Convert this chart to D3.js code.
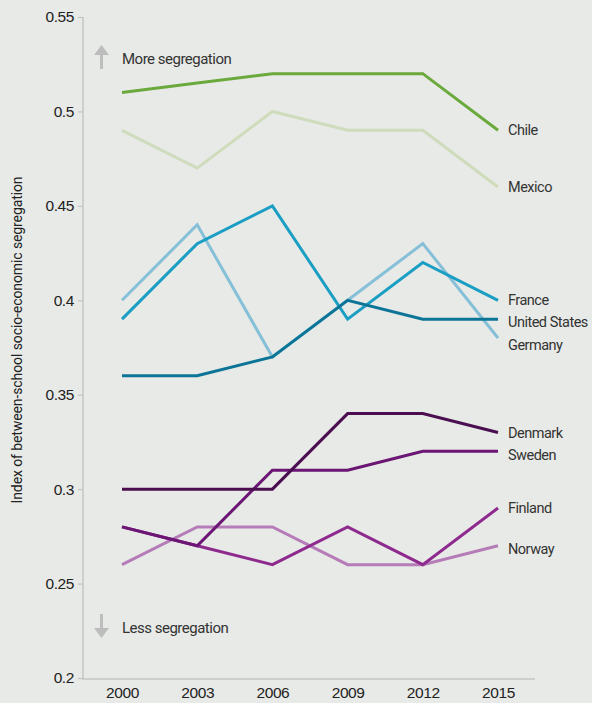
<!DOCTYPE html>
<html><head><meta charset="utf-8">
<script src="https://cdn.jsdelivr.net/npm/d3@7"></script>
<style>
body{margin:0;background:#e8eae7;}
svg{display:block;font-family:"Roboto","Noto Sans",sans-serif;}
</style></head><body>
<svg id="c" width="592" height="703"></svg>
<script>
const years = [2000, 2003, 2006, 2009, 2012, 2015];
const yTicks = [0.2, 0.25, 0.3, 0.35, 0.4, 0.45, 0.5, 0.55];
const countries = ["Chile","Mexico","France","United States","Germany","Denmark","Sweden","Finland","Norway"];
const chile   = [0.51, 0.515, 0.52, 0.52, 0.52, 0.49];
const mexico  = [0.49, 0.47, 0.50, 0.49, 0.49, 0.46];
const france  = [0.39, 0.43, 0.45, 0.39, 0.42, 0.40];
const usa     = [0.36, 0.36, 0.37, 0.40, 0.39, 0.39];
const germany = [0.40, 0.44, 0.37, 0.40, 0.43, 0.38];
const denmark = [0.30, 0.30, 0.30, 0.34, 0.34, 0.33];
const sweden  = [0.28, 0.27, 0.31, 0.31, 0.32, 0.32];
const finland = [0.28, 0.27, 0.26, 0.28, 0.26, 0.29];
const norway  = [0.26, 0.28, 0.28, 0.26, 0.26, 0.27];
const colors = ["#6aa93b","#cfdcbc","#1a9ec4","#0c7597","#86bfd8","#4b0e50","#6b1574","#8e2a8e","#b57cb8"];
const seriesValues = [chile, mexico, france, usa, germany, denmark, sweden, finland, norway];
const labelValues = [0.49, 0.46, 0.40, 0.3885, 0.3765, 0.33, 0.318, 0.29, 0.2685];

const svg = d3.select("#c");
const x = d3.scalePoint().domain(years).range([122, 498]);
const y = d3.scaleLinear().domain([0.2, 0.55]).range([678, 17]);

// axes
svg.append("line").attr("x1",83).attr("x2",83).attr("y1",17).attr("y2",679)
  .attr("stroke","#c4c4c4").attr("stroke-width",1.5);
svg.append("line").attr("x1",82).attr("x2",535).attr("y1",679).attr("y2",679)
  .attr("stroke","#c4c4c4").attr("stroke-width",1.5);

const yAxis = d3.axisLeft(y).tickValues(yTicks).tickSize(5).tickFormat(d => String(+d.toFixed(2)));
const gy = svg.append("g").attr("transform","translate(83,0)").call(yAxis);
gy.select(".domain").remove();
gy.selectAll(".tick line").attr("stroke","#c4c4c4").attr("stroke-width",1.2);
gy.selectAll(".tick text").attr("font-size",15.5).attr("fill","#222").attr("x",-9)
  .attr("font-family","inherit").attr("letter-spacing",-0.4);

const xAxis = d3.axisBottom(x).tickSize(0).tickFormat(d3.format("d"));
const gx = svg.append("g").attr("transform","translate(0,679)").call(xAxis);
gx.select(".domain").remove();
gx.selectAll(".tick text").attr("font-size",15.5).attr("fill","#222").attr("dy","1.05em")
  .attr("font-family","inherit").attr("letter-spacing",-0.4);

// y title
svg.append("text").attr("transform","translate(22,340) rotate(-90)")
  .attr("text-anchor","middle").attr("font-size",14).attr("fill","#222").attr("letter-spacing",-0.1)
  .text("Index of between-school socio-economic segregation");

// annotations
function arrow(up, yy){
  const g = svg.append("g").attr("fill","#bdbdbd");
  if(up){
    g.append("rect").attr("x",100).attr("y",yy+8).attr("width",3).attr("height",16);
    g.append("path").attr("d",`M94,${yy+10} L101.5,${yy} L109,${yy+10} Z`);
  } else {
    g.append("rect").attr("x",100).attr("y",yy).attr("width",3).attr("height",16);
    g.append("path").attr("d",`M94,${yy+14} L101.5,${yy+24} L109,${yy+14} Z`);
  }
}
arrow(true, 45);
arrow(false, 614);
svg.append("text").attr("x",122).attr("y",64).attr("font-size",15).attr("letter-spacing",-0.5).attr("fill","#333").text("More segregation");
svg.append("text").attr("x",122).attr("y",633).attr("font-size",15).attr("letter-spacing",-0.5).attr("fill","#333").text("Less segregation");

// lines
const line = d3.line().x((d,i)=>x(years[i])).y(d=>y(d));
const order = [1,0,4,2,3,8,7,6,5];
order.forEach(i=>{
  svg.append("path").datum(seriesValues[i]).attr("d",line)
    .attr("fill","none").attr("stroke",colors[i]).attr("stroke-width",3)
    .attr("stroke-linejoin","miter");
});

// labels
countries.forEach((c,i)=>{
  svg.append("text").attr("x",508).attr("y",y(labelValues[i])).attr("dy","0.35em")
    .attr("font-size",14.5).attr("letter-spacing",-0.5).attr("fill","#333").text(c);
});
</script>
</body></html>
